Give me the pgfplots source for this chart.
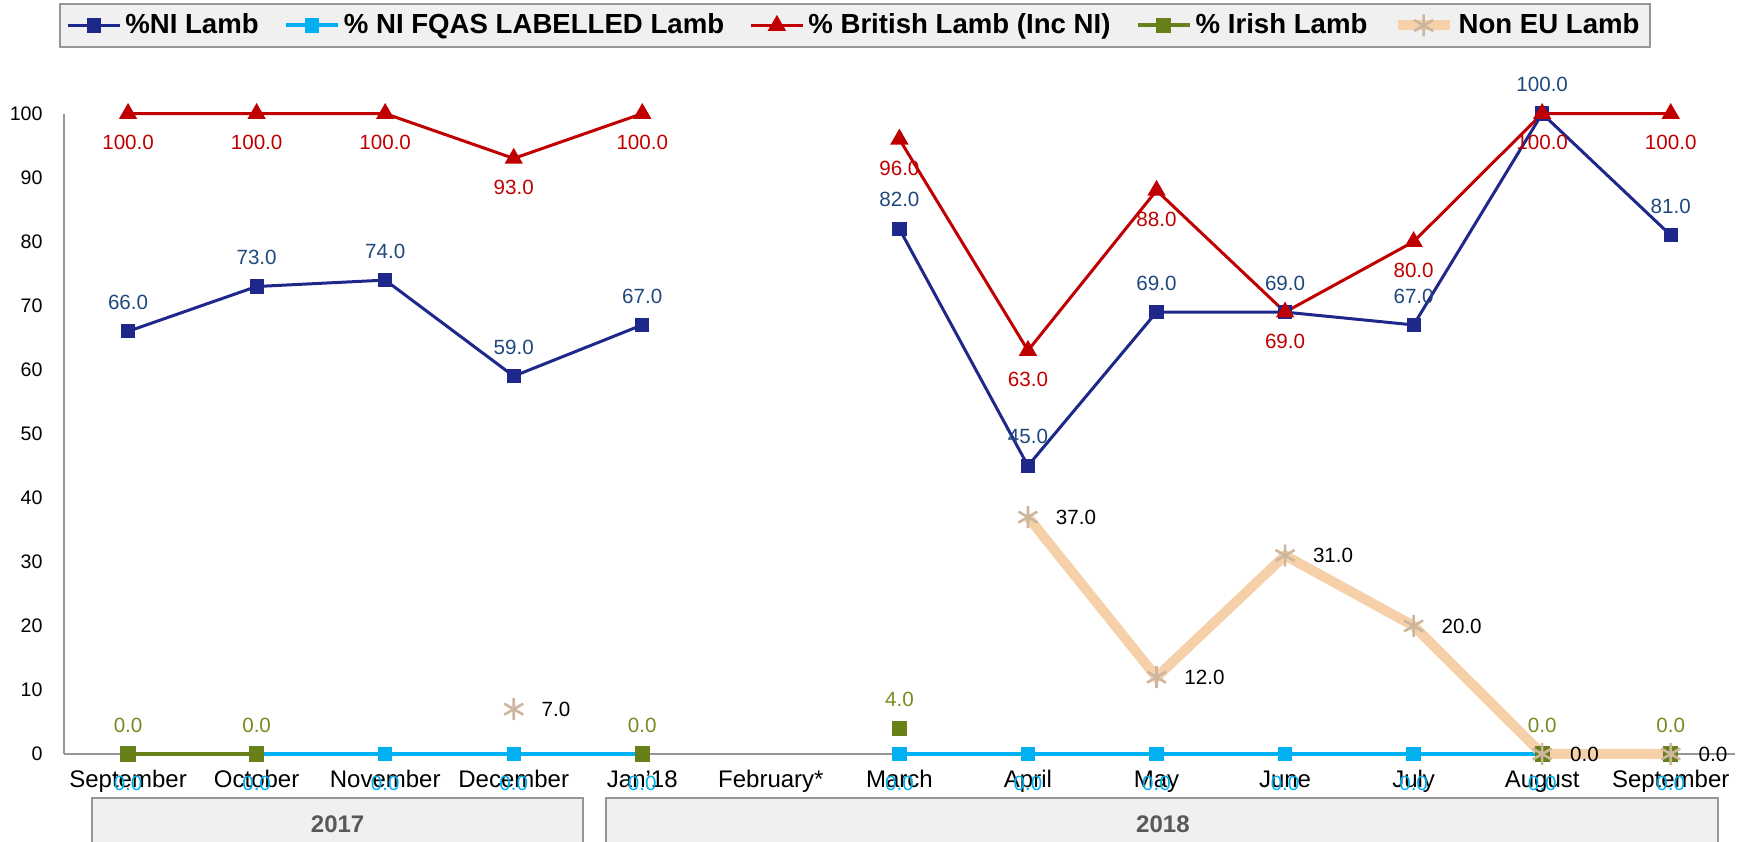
\documentclass[border=0pt]{standalone}
\usepackage{fontspec}
\setmainfont{Liberation Sans}
\usepackage{pgfplots}
\pgfplotsset{compat=1.18}

\definecolor{nidark}{RGB}{30,40,138}
\definecolor{nilab}{RGB}{31,73,125}
\definecolor{fqas}{RGB}{0,176,240}
\definecolor{brit}{RGB}{192,0,0}
\definecolor{irish}{RGB}{104,128,24}
\definecolor{irishlab}{RGB}{118,140,30}
\definecolor{noneu}{RGB}{246,208,168}
\definecolor{starc}{RGB}{205,182,158}
\definecolor{boxfill}{RGB}{240,240,240}
\definecolor{boxline}{RGB}{150,150,150}

\pgfplotsset{
  lab/.style={nodes near coords={\pgfmathprintnumber[fixed,fixed zerofill,precision=1]{\pgfplotspointmeta}},
    every node near coord/.append style={font=\fontsize{10.3}{12}\selectfont, text=#1}},
  above lab/.style={every node near coord/.append style={anchor=center, yshift=14.5pt}},
  below lab/.style={every node near coord/.append style={anchor=center, yshift=-14.5pt}},
  right lab/.style={every node near coord/.append style={anchor=west, xshift=10pt}},
}

\begin{document}
\begin{tikzpicture}
\begin{axis}[
  name=ax,
  scale only axis,
  width=835.6pt, height=320.2pt,
  xmin=-0.5, xmax=12.5,
  ymin=0, ymax=100,
  clip=false,
  unbounded coords=jump,
  axis lines=left,
  axis line style={-, draw=boxline, line width=1pt},
  tick style={draw=none},
  xtick={0,...,12},
  xticklabels={September, October, November, December, Jan'18, February*, March, April, May, June, July, August, September},
  ytick={0,10,...,100},
  x tick label style={font=\fontsize{12}{14}\selectfont, anchor=base, yshift=-14.8pt},
  y tick label style={font=\fontsize{9.8}{12}\selectfont, xshift=-5pt},
  /pgf/number format/assume math mode=true,
  point meta=y,
  legend columns=5,
  legend style={at={(0.4734,1.1727)}, anchor=north, fill=boxfill, draw=boxline, line width=1pt,
    font=\fontsize{13.8}{16}\selectfont\bfseries, inner ysep=3pt,
    /tikz/every even column/.append style={column sep=10.6pt}},
  legend image code/.code={\draw[mark repeat=2,mark phase=2,#1] plot coordinates {(0pt,0pt) (13pt,0pt) (26pt,0pt)};},
]
\addplot[nidark, line width=1.5pt, mark=square*, mark size=2.8pt, mark options={solid}, lab=nilab, above lab]
  coordinates {(0,66) (1,73) (2,74) (3,59) (4,67) (5,nan) (6,82) (7,45) (8,69) (9,69) (10,67) (11,100) (12,81)};
\addlegendentry{\%NI Lamb}
\addplot[fqas, line width=2pt, mark=square*, mark size=2.6pt, mark options={solid}, lab=fqas, below lab]
  coordinates {(0,0) (1,0) (2,0) (3,0) (4,0) (5,nan) (6,0) (7,0) (8,0) (9,0) (10,0) (11,0) (12,0)};
\addlegendentry{\% NI FQAS LABELLED Lamb}
\addplot[brit, line width=1.5pt, mark=triangle*, mark size=3.8pt, mark options={solid}, lab=brit, below lab]
  coordinates {(0,100) (1,100) (2,100) (3,93) (4,100) (5,nan) (6,96) (7,63) (8,88) (9,69) (10,80) (11,100) (12,100)};
\addlegendentry{\% British Lamb (Inc NI)}
\addplot[irish, line width=2pt, mark=square*, mark size=2.8pt, mark options={solid}, lab=irishlab, above lab]
  coordinates {(0,0) (1,0) (2,nan) (3,nan) (4,0) (5,nan) (6,4) (7,nan) (8,nan) (9,nan) (10,nan) (11,0) (12,0)};
\addlegendentry{\% Irish Lamb}
\addplot[noneu, line width=5pt, mark=asterisk, mark size=5.5pt, mark options={solid, draw=starc, line width=1.3pt}, lab=black, right lab]
  coordinates {(0,nan) (1,nan) (2,nan) (3,7) (4,nan) (5,nan) (6,nan) (7,37) (8,12) (9,31) (10,20) (11,0) (12,0)};
\addlegendentry{Non EU Lamb}

% year group boxes under the category axis
\draw[fill=boxfill, draw=boxline, line width=1pt] (axis cs:-0.28,-6.87) rectangle (axis cs:3.54,-16);
\draw[fill=boxfill, draw=boxline, line width=1pt] (axis cs:3.72,-6.87) rectangle (axis cs:12.37,-16);
\node[font=\fontsize{12}{14}\selectfont\bfseries, text={rgb,255:red,89;green,89;blue,89}] at (axis cs:1.63,-10.9) {2017};
\node[font=\fontsize{12}{14}\selectfont\bfseries, text={rgb,255:red,89;green,89;blue,89}] at (axis cs:8.05,-10.9) {2018};
\end{axis}
\pgfresetboundingbox
\useasboundingbox ([shift={(-31.9pt,-43.5pt)}]ax.south west) rectangle ([shift={(5.5pt,56.8pt)}]ax.north east);
\end{tikzpicture}
\end{document}
